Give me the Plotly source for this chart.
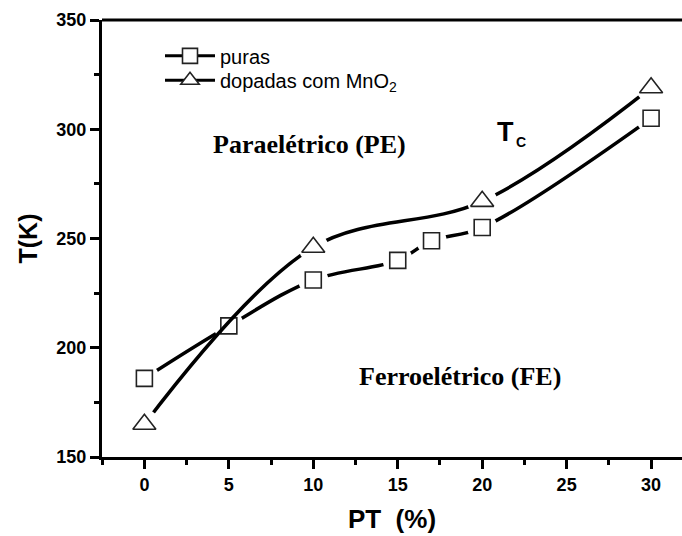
import plotly.graph_objects as go

# ---- data ----
pt_puras = [0, 5, 10, 15, 17, 20, 30]
tc_puras = [186, 210, 231, 240, 249, 255, 305]
pt_dopadas = [0, 10, 20, 30]
tc_dopadas = [165, 246, 267, 319]

x_ticks = [0, 5, 10, 15, 20, 25, 30]
y_ticks = [150, 200, 250, 300, 350]

LINE_W = 3.5
SANS = "Liberation Sans, Arial, sans-serif"
SERIF = "Liberation Serif, Times New Roman, serif"
fig = go.Figure()

def add_series(xs, ys, symbol, msize, masksize):
    fig.add_trace(go.Scatter(x=xs, y=ys, mode="lines", showlegend=False,
                             line=dict(color="black", width=LINE_W, shape="spline", smoothing=1),
                             hoverinfo="skip"))
    fig.add_trace(go.Scatter(x=xs, y=ys, mode="markers", showlegend=False,
                             marker=dict(symbol="circle", size=masksize, color="white",
                                         line=dict(width=0)), hoverinfo="skip"))
    fig.add_trace(go.Scatter(x=xs, y=ys, mode="markers", showlegend=False,
                             marker=dict(symbol=symbol, size=msize, color="white",
                                         line=dict(color="#222", width=1.6))))

add_series(pt_puras, tc_puras, "square", 16, 30)
add_series(pt_dopadas, tc_dopadas, "triangle-up", 20, 30)

# legend entries (one legend each for exact placement)
fig.add_trace(go.Scatter(x=[None], y=[None], mode="lines+markers", name="puras",
                         legend="legend",
                         line=dict(color="black", width=3),
                         marker=dict(symbol="square", size=15, color="white",
                                     line=dict(color="#222", width=1.6))))
fig.add_trace(go.Scatter(x=[None], y=[None], mode="lines+markers",
                         name="dopadas com MnO<sub>2</sub>", legend="legend2",
                         line=dict(color="black", width=3),
                         marker=dict(symbol="triangle-up", size=16, color="white",
                                     line=dict(color="#222", width=1.6))))

tickfont = dict(family=SANS, size=18, color="black", weight="bold")
axis_common = dict(showline=True, linecolor="black", linewidth=3, ticks="outside",
                   ticklen=9, tickwidth=2.5, tickcolor="black", showgrid=False,
                   zeroline=False, tickfont=tickfont)

legend_common = dict(xanchor="left", yanchor="middle", bgcolor="rgba(0,0,0,0)",
                     font=dict(family=SANS, size=20, color="black"),
                     itemwidth=50, itemsizing="trace")

fig.update_layout(
    width=682, height=536,
    margin=dict(l=102, r=0, t=20, b=79),
    plot_bgcolor="white", paper_bgcolor="white",
    xaxis=dict(range=[-2.51, 31.83], tickvals=x_ticks,
               minor=dict(dtick=2.5, tick0=0, ticks="outside", ticklen=5, tickwidth=2.5,
                          tickcolor="black"),
               title=dict(text="PT  (%)", standoff=17,
                          font=dict(family=SANS, size=26, color="black", weight="bold")),
               **axis_common),
    yaxis=dict(range=[150, 350], tickvals=y_ticks,
               minor=dict(dtick=25, tick0=0, ticks="outside", ticklen=5, tickwidth=2.5,
                          tickcolor="black"),
               title=dict(text="T(K)", standoff=12,
                          font=dict(family=SANS, size=25, color="black", weight="bold")),
               **axis_common),
    legend=dict(x=0.1, y=0.918, **legend_common),
    legend2=dict(x=0.1, y=0.862, **legend_common),
    shapes=[dict(type="line", xref="paper", yref="paper", x0=0, x1=1, y0=1, y1=1,
                 line=dict(color="black", width=3))],
    showlegend=True,
)

fig.add_annotation(x=9.8, y=293, xref="x", yref="y", text="<b>Paraelétrico (PE)</b>",
                   showarrow=False, font=dict(family=SERIF, size=26, color="black"))
fig.add_annotation(x=18.7, y=187, xref="x", yref="y", text="<b>Ferroelétrico (FE)</b>",
                   showarrow=False, font=dict(family=SERIF, size=26, color="black"))
fig.add_annotation(x=21.36, y=298.7, xref="x", yref="y", text="<b>T</b>",
                   showarrow=False, font=dict(family=SANS, size=27, color="black"))
fig.add_annotation(x=22.3, y=294.3, xref="x", yref="y", text="<b>C</b>",
                   showarrow=False, font=dict(family=SANS, size=14, color="black"))

fig.write_html("out.html")
